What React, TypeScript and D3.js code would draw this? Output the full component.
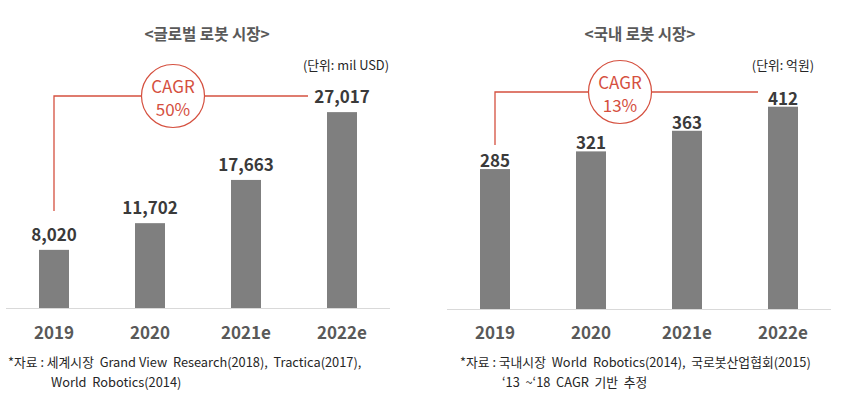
import React from "react";
import * as d3 from "d3";

const years = ["2019", "2020", "2021e", "2022e"];
const globalValues = [8020, 11702, 17663, 27017];
const domesticValues = [285, 321, 363, 412];
const globalTitle = "<글로벌 로봇 시장>";
const domesticTitle = "<국내 로봇 시장>";
const globalUnit = "(단위: mil USD)";
const domesticUnit = "(단위: 억원)";
const globalCagr = "50%";
const domesticCagr = "13%";
const globalNotes = ["*자료 : 세계시장  Grand View  Research(2018),  Tractica(2017),", "World  Robotics(2014)"];
const domesticNotes = ["*자료 : 국내시장  World  Robotics(2014),  국로봇산업협회(2015)", "‘13  ~‘18  CAGR  기반  추정"];

const FONT = "'Noto Sans CJK KR', 'Noto Sans', sans-serif";
const RED = "#d5503f";

type PanelProps = {
  values: number[];
  title: string;
  unit: string;
  cagr: string;
  notes: string[];
  x0: number;
  x1: number;
  baseline: number;
  pxPerUnit: number;
  labelGap: number;
  titleX: number;
  unitX: number;
  lineY: number;
  circleX: number;
  lineEndX: number;
  vertEndY: number;
  noteX: number;
  note2X: number;
};

function Panel(p: PanelProps) {
  const x = d3.scaleBand<string>().domain(years).range([p.x0, p.x1]).paddingInner(0.6875).paddingOuter(0.34375);
  const maxV = d3.max(p.values) as number;
  const y = d3.scaleLinear().domain([0, maxV]).range([p.baseline, p.baseline - maxV * p.pxPerUnit]);
  const bw = x.bandwidth();
  const firstC = (x(years[0]) as number) + bw / 2;
  const r = 31.5;
  return (
    <g>
      <text x={p.titleX} y={40} textAnchor="middle" fontSize={15.5} fontWeight={700} fill="#595959">{p.title}</text>
      <text x={p.unitX} y={70} textAnchor="end" fontSize={12.8} fill="#262626">{p.unit}</text>
      {p.values.map((v, i) => (
        <rect key={i} x={x(years[i])} y={y(v)} width={bw} height={p.baseline - y(v)} fill="#7f7f7f" />
      ))}
      <line x1={p.x0} x2={p.x1} y1={p.baseline + 0.5} y2={p.baseline + 0.5} stroke="#d9d9d9" strokeWidth={1} />
      {p.values.map((v, i) => (
        <text key={i} x={(x(years[i]) as number) + bw / 2} y={y(v) - p.labelGap} textAnchor="middle" fontSize={17} fontWeight={700} fill="#3a3a3a">
          {d3.format(",")(v)}
        </text>
      ))}
      {years.map((yr, i) => (
        <text key={yr} x={(x(yr) as number) + bw / 2} y={339} textAnchor="middle" fontSize={17} fontWeight={700} fill="#595959">{yr}</text>
      ))}
      <path d={`M${firstC},${p.vertEndY} V${p.lineY} H${p.circleX - r}`} fill="none" stroke={RED} strokeWidth={1.3} />
      <line x1={p.circleX + r} x2={p.lineEndX} y1={p.lineY} y2={p.lineY} stroke={RED} strokeWidth={1.3} />
      <circle cx={p.circleX} cy={p.lineY} r={r} fill="#fff" stroke={RED} strokeWidth={1.2} />
      <text x={p.circleX} y={p.lineY - 3} textAnchor="middle" fontSize={17} fontWeight={400} fill={RED}>CAGR</text>
      <text x={p.circleX} y={p.lineY + 20} textAnchor="middle" fontSize={17} fontWeight={400} fill={RED}>{p.cagr}</text>
      <text x={p.noteX} y={367} fontSize={12.8} fill="#262626" style={{ whiteSpace: "pre" }}>{p.notes[0]}</text>
      <text x={p.note2X} y={387} fontSize={12.8} fill="#262626" style={{ whiteSpace: "pre" }}>{p.notes[1]}</text>
    </g>
  );
}

export default function App() {
  return (
    <svg width={843} height={398} style={{ position: "absolute", left: 0, top: 0, fontFamily: FONT }}>
      <rect width={843} height={398} fill="#fff" />
      <Panel values={globalValues} title={globalTitle} unit={globalUnit} cagr={globalCagr} notes={globalNotes}
        x0={6} x1={390} baseline={308} pxPerUnit={0.00725} labelGap={9} titleX={207} unitX={389}
        lineY={96} circleX={173} lineEndX={308} vertEndY={211} noteX={8} note2X={51} />
      <Panel values={domesticValues} title={domesticTitle} unit={domesticUnit} cagr={domesticCagr} notes={domesticNotes}
        x0={447} x1={831} baseline={309} pxPerUnit={0.491} labelGap={2} titleX={640} unitX={814}
        lineY={92} circleX={620} lineEndX={758} vertEndY={145} noteX={460} note2X={502} />
    </svg>
  );
}
